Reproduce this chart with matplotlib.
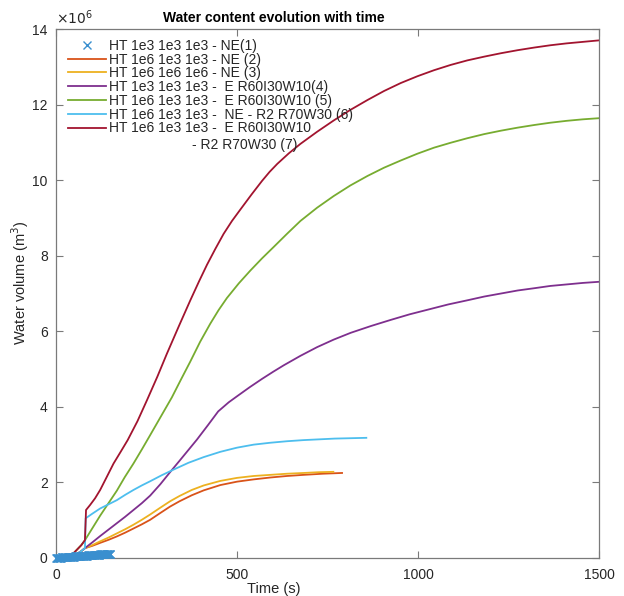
import matplotlib
matplotlib.use("Agg")
import matplotlib.pyplot as plt

plt.rcParams['font.family'] = ['Liberation Sans', 'DejaVu Sans']

# values in units of 1e6 m^3
t1 = [0, 2, 4, 6, 8, 10, 12, 14, 16, 18, 20, 22, 24, 26, 28, 30, 32, 34, 36, 38,
      40, 42, 44, 46, 48, 50, 52, 54, 56, 58, 60, 62, 64, 66, 68, 70, 72, 74, 76, 78,
      80, 82, 84, 86, 88, 90, 92, 94, 96, 98, 100, 102, 104, 106, 108, 110, 112, 114,
      116, 118, 120, 122, 124, 126, 128, 130, 132, 134, 136, 138, 140, 142, 144, 146,
      148, 150]
v1 = [0.000, 0.002, 0.004, 0.005, 0.007, 0.008, 0.010, 0.011, 0.013, 0.014, 0.016,
      0.017, 0.019, 0.020, 0.022, 0.023, 0.025, 0.026, 0.028, 0.029, 0.031, 0.032,
      0.034, 0.035, 0.037, 0.038, 0.040, 0.041, 0.043, 0.044, 0.046, 0.047, 0.049,
      0.050, 0.052, 0.053, 0.055, 0.056, 0.058, 0.059, 0.061, 0.062, 0.064, 0.065,
      0.067, 0.068, 0.070, 0.071, 0.073, 0.074, 0.076, 0.077, 0.079, 0.080, 0.082,
      0.083, 0.085, 0.086, 0.088, 0.089, 0.091, 0.092, 0.094, 0.095, 0.097, 0.098,
      0.100, 0.101, 0.103, 0.104, 0.106, 0.107, 0.109, 0.110, 0.112, 0.113]

t2 = [0, 10, 20, 30, 40, 50, 60, 70, 80, 100, 122, 145, 168, 191, 214, 237, 260, 288,
      315, 341, 375, 408, 454, 500, 546, 592, 638, 684, 737, 790]
v2 = [0.0, 0.003, 0.008, 0.02, 0.04, 0.075, 0.12, 0.18, 0.26, 0.32, 0.40, 0.48, 0.57,
      0.67, 0.78, 0.89, 1.01, 1.19, 1.36, 1.50, 1.66, 1.79, 1.93, 2.02, 2.08, 2.13,
      2.17, 2.20, 2.23, 2.25]

t3 = [0, 10, 20, 30, 40, 50, 60, 70, 80, 100, 122, 145, 168, 191, 214, 237, 260, 288,
      315, 341, 375, 408, 454, 500, 546, 592, 638, 684, 725, 766]
v3 = [0.0, 0.003, 0.008, 0.02, 0.04, 0.075, 0.12, 0.18, 0.26, 0.34, 0.44, 0.54, 0.65,
      0.76, 0.88, 1.01, 1.15, 1.33, 1.50, 1.64, 1.80, 1.92, 2.04, 2.12, 2.17, 2.20,
      2.23, 2.25, 2.27, 2.28]

t4 = [0, 10, 20, 30, 40, 50, 60, 70, 80, 100, 122, 145, 168, 191, 214, 237, 260, 288,
      315, 341, 365, 389, 420, 448, 477, 500, 535, 569, 600, 629, 675, 721, 767, 814,
      870, 924, 977, 1030, 1083, 1136, 1183, 1229, 1275, 1321, 1365, 1410, 1455, 1500]
v4 = [0.0, 0.003, 0.008, 0.02, 0.04, 0.075, 0.12, 0.18, 0.26, 0.41, 0.58, 0.75, 0.92,
      1.09, 1.27, 1.45, 1.65, 1.95, 2.27, 2.57, 2.85, 3.13, 3.52, 3.88, 4.12, 4.28,
      4.52, 4.74, 4.93, 5.10, 5.35, 5.58, 5.78, 5.96, 6.14, 6.30, 6.45, 6.58, 6.71,
      6.82, 6.92, 7.00, 7.08, 7.14, 7.20, 7.24, 7.28, 7.31]

t5 = [0, 10, 20, 30, 40, 50, 60, 70, 80, 100, 122, 145, 168, 190, 214, 237, 260, 290,
      320, 345, 371, 398, 426, 449, 472, 505, 537, 569, 601, 638, 675, 721, 767, 813,
      860, 906, 952, 998, 1044, 1090, 1136, 1183, 1229, 1275, 1321, 1365, 1410, 1455,
      1500]
v5 = [0.01, 0.015, 0.025, 0.04, 0.07, 0.14, 0.24, 0.34, 0.47, 0.78, 1.12, 1.45, 1.78,
      2.14, 2.50, 2.87, 3.25, 3.75, 4.25, 4.72, 5.20, 5.72, 6.20, 6.56, 6.88, 7.27,
      7.61, 7.93, 8.23, 8.58, 8.92, 9.27, 9.58, 9.86, 10.11, 10.33, 10.52, 10.70,
      10.86, 10.99, 11.11, 11.22, 11.31, 11.39, 11.46, 11.52, 11.57, 11.61, 11.64]

t6 = [0, 10, 20, 30, 40, 50, 60, 70, 80, 82, 100, 122, 145, 168, 191, 214, 237, 260,
      292, 325, 366, 408, 454, 500, 546, 592, 638, 684, 727, 770, 814, 857]
v6 = [0.0, 0.003, 0.008, 0.02, 0.04, 0.075, 0.12, 0.18, 0.26, 1.05, 1.17, 1.31, 1.42,
      1.53, 1.67, 1.80, 1.92, 2.03, 2.19, 2.34, 2.52, 2.67, 2.81, 2.92, 3.00, 3.05,
      3.09, 3.12, 3.14, 3.16, 3.17, 3.18]

t7 = [0, 10, 20, 30, 40, 50, 60, 70, 80, 83, 94, 108, 122, 140, 159, 178, 198, 225,
      251, 280, 306, 340, 371, 395, 417, 440, 463, 486, 509, 540, 569, 590, 611, 643,
      675, 721, 767, 813, 860, 906, 952, 998, 1044, 1090, 1136, 1183, 1229, 1275,
      1321, 1365, 1410, 1455, 1500]
v7 = [0.01, 0.015, 0.025, 0.04, 0.07, 0.14, 0.24, 0.34, 0.47, 1.27, 1.40, 1.58, 1.80,
      2.14, 2.50, 2.80, 3.12, 3.62, 4.17, 4.80, 5.40, 6.15, 6.82, 7.32, 7.76, 8.18,
      8.58, 8.92, 9.22, 9.62, 9.98, 10.22, 10.43, 10.71, 10.96, 11.28, 11.58, 11.86,
      12.12, 12.36, 12.57, 12.75, 12.91, 13.05, 13.17, 13.27, 13.36, 13.44, 13.51,
      13.57, 13.62, 13.66, 13.70]

labels = [
    'HT 1e3 1e3 1e3 - NE(1)',
    'HT 1e6 1e3 1e3 - NE (2)',
    'HT 1e6 1e6 1e6 - NE (3)',
    'HT 1e3 1e3 1e3 -  E R60I30W10(4)',
    'HT 1e6 1e3 1e3 -  E R60I30W10 (5)',
    'HT 1e6 1e3 1e3 -  NE - R2 R70W30 (6)',
    'HT 1e6 1e3 1e3 -  E R60I30W10',
]
label7_cont = '- R2 R70W30 (7)'
colors = ['#3a8fcf', '#D95319', '#EDB120', '#7E2F8E', '#77AC30', '#4DBEEE', '#A2142F']

fig = plt.figure(figsize=(6.24, 5.96), dpi=100)
ax = fig.add_axes([0.0897, 0.0638, 0.8705, 0.8875])

ax.plot(t1, v1, linestyle='none', marker='x', markersize=6, markeredgewidth=1.0,
        color=colors[0], label=labels[0], clip_on=False, zorder=3)
series = [(t2, v2), (t3, v3), (t4, v4), (t5, v5), (t6, v6), (t7, v7)]
for i, (t, v) in enumerate(series):
    ax.plot(t, v, color=colors[i + 1], lw=1.3, label=labels[i + 1])

ax.set_xlim(0, 1500)
ax.set_ylim(0, 14)
ax.set_xticks([0, 500, 1000, 1500])
ax.set_yticks([0, 2, 4, 6, 8, 10, 12, 14])

text_col = '#262626'
for s in ax.spines.values():
    s.set_color('#7a7a7a')
    s.set_linewidth(0.9)
ax.tick_params(direction='in', length=5, width=0.8, color='#7a7a7a',
               labelcolor=text_col, labelsize=10, top=True, right=True)
ax.tick_params(axis='x', pad=7)
ax.tick_params(axis='y', pad=6)

ax.set_title('Water content evolution with time', fontsize=10, fontweight='bold',
             color='black', x=0.401, pad=5)
ax.set_xlabel('Time (s)', fontsize=10.5, color=text_col)
ax.xaxis.set_label_coords(0.401, -0.045)
ax.set_ylabel('Water volume (m$^3$)', fontsize=10.5, color=text_col)
ax.yaxis.set_label_coords(-0.046, 0.52)
ax.text(0.0, 1.004, r'$\times10^6$', transform=ax.transAxes, fontsize=10,
        color=text_col, ha='left', va='bottom')

leg = ax.legend(loc='upper left', frameon=False, fontsize=10, handlelength=2.7,
                handletextpad=0.25, labelspacing=-0.015, borderaxespad=0.3,
                numpoints=1, bbox_to_anchor=(0.005, 1.0))
for txt in leg.get_texts():
    txt.set_color(text_col)
fig.text(192 / 624, 1 - 145 / 596, label7_cont, fontsize=10, color=text_col,
         ha='left', va='center')

fig.savefig('out.png', dpi=100)
